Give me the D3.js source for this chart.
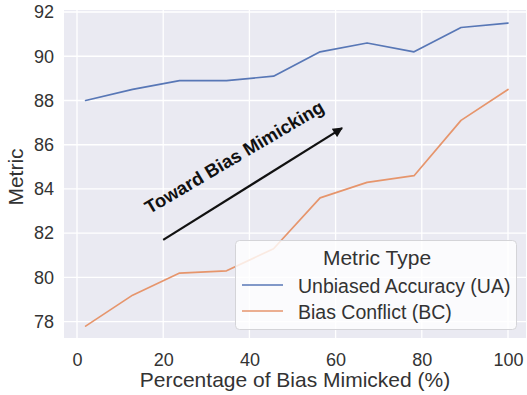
<!DOCTYPE html>
<html>
<head>
<meta charset="utf-8">
<script src="https://cdn.jsdelivr.net/npm/d3@7/dist/d3.min.js"></script>
<style>
  html, body { margin: 0; padding: 0; background: #ffffff; }
  svg { display: block; }
  svg text { font-family: "Liberation Sans", Arial, sans-serif; }
</style>
</head>
<body>
<svg id="chart" width="527" height="395"></svg>
<script>
// Percentage of bias mimicked (x) and the two tracked metrics
const percentages = [2, 12.9, 23.8, 34.7, 45.6, 56.4, 67.3, 78.2, 89.1, 100];
const unbiasedAccuracy = [88.0, 88.5, 88.9, 88.9, 89.1, 90.2, 90.6, 90.2, 91.3, 91.5];
const biasConflict = [77.8, 79.2, 80.2, 80.3, 81.3, 83.6, 84.3, 84.6, 87.1, 88.5];

const seriesNames = ["Unbiased Accuracy (UA)", "Bias Conflict (BC)"];
const seriesColors = ["#5877b6", "#e6956c"];
const xTicks = [0, 20, 40, 60, 80, 100];
const yTicks = [78, 80, 82, 84, 86, 88, 90, 92];

const legendTitle = "Metric Type";
const xLabel = "Percentage of Bias Mimicked (%)";
const yLabel = "Metric";
const arrowText = "Toward Bias Mimicking";
const arrowFrom = [20, 81.7];
const arrowTo = [61.5, 86.75];

const FONT = "'Liberation Sans', Arial, sans-serif";
const svg = d3.select("#chart");
const plot = { left: 64, right: 526, top: 10, bottom: 338 };

const x = d3.scaleLinear()
  .domain([(plot.left - 77) / 4.31, (plot.right - 77) / 4.31])
  .range([plot.left, plot.right]);
const y = d3.scaleLinear()
  .domain([78 - (plot.bottom - 321.7) / 22.12, 92 + (12 - plot.top) / 22.12])
  .range([plot.bottom, plot.top]);

// Panel background
svg.append("rect")
  .attr("x", plot.left).attr("y", plot.top)
  .attr("width", plot.right - plot.left).attr("height", plot.bottom - plot.top)
  .attr("fill", "#eaeaf2");

// White grid lines
const grid = svg.append("g");
grid.selectAll("line.h").data(yTicks).join("line")
  .attr("x1", plot.left).attr("x2", plot.right)
  .attr("y1", d => y(d)).attr("y2", d => y(d))
  .attr("stroke", "#ffffff").attr("stroke-width", 1.3);
grid.selectAll("line.v").data(xTicks).join("line")
  .attr("y1", plot.top).attr("y2", plot.bottom)
  .attr("x1", d => x(d)).attr("x2", d => x(d))
  .attr("stroke", "#ffffff").attr("stroke-width", 1.3);

// Axes (text only, no domain or tick marks)
const xAxis = svg.append("g")
  .attr("transform", `translate(0,${plot.bottom})`)
  .call(d3.axisBottom(x).tickValues(xTicks).tickSize(0).tickPadding(15));
const yAxis = svg.append("g")
  .attr("transform", `translate(${plot.left},0)`)
  .call(d3.axisLeft(y).tickValues(yTicks).tickSize(0).tickPadding(10));
[xAxis, yAxis].forEach(g => {
  g.attr("font-family", null).attr("font-size", null);
  g.select(".domain").remove();
  g.selectAll("text")
    .attr("fill", "#333333")
    .style("font-size", "18px")
    .style("font-family", FONT);
});

svg.append("text")
  .attr("x", (plot.left + plot.right) / 2) .attr("y", 387)
  .attr("text-anchor", "middle")
  .attr("fill", "#333333").style("font-size", "21px").style("font-family", FONT)
  .text(xLabel);
svg.append("text")
  .attr("transform", `translate(23,${(plot.top + plot.bottom) / 2 + 3}) rotate(-90)`)
  .attr("text-anchor", "middle")
  .attr("fill", "#333333").style("font-size", "21px").style("font-family", FONT)
  .text(yLabel);

// Metric lines
const line = d3.line().x((d, i) => x(percentages[i])).y(d => y(d));
[unbiasedAccuracy, biasConflict].forEach((vals, k) => {
  svg.append("path")
    .datum(vals)
    .attr("d", line)
    .attr("fill", "none")
    .attr("stroke", seriesColors[k])
    .attr("stroke-width", 1.7)
    .attr("stroke-linejoin", "round")
    .attr("stroke-linecap", "round");
});

// Annotation arrow and caption
const defs = svg.append("defs");
defs.append("marker")
  .attr("id", "arrowhead")
  .attr("viewBox", "0 0 10 10")
  .attr("refX", 9).attr("refY", 5)
  .attr("markerUnits", "userSpaceOnUse")
  .attr("markerWidth", 12).attr("markerHeight", 10)
  .attr("orient", "auto")
  .append("path")
  .attr("d", "M0,0 L10,5 L0,10 z")
  .attr("fill", "#111111");

const ax0 = x(arrowFrom[0]), ay0 = y(arrowFrom[1]);
const ax1 = x(arrowTo[0]), ay1 = y(arrowTo[1]);
svg.append("line")
  .attr("x1", ax0).attr("y1", ay0).attr("x2", ax1).attr("y2", ay1)
  .attr("stroke", "#111111").attr("stroke-width", 2.2)
  .attr("marker-end", "url(#arrowhead)");

const angle = Math.atan2(ay1 - ay0, ax1 - ax0) * 180 / Math.PI;
svg.append("text")
  .attr("transform", `translate(${x(36.5)},${y(85.45)}) rotate(${angle + 1.5})`)
  .attr("text-anchor", "middle")
  .attr("dy", "0.35em")
  .attr("fill", "#111111")
  .style("font-size", "18.5px").style("font-weight", "bold").style("font-family", FONT)
  .text(arrowText);

// Legend
const legend = svg.append("g");
legend.append("rect")
  .attr("x", 235.5).attr("y", 240.5)
  .attr("width", 281).attr("height", 89)
  .attr("rx", 4)
  .attr("fill", "#ffffff").attr("fill-opacity", 0.8)
  .attr("stroke", "#d4d4d8").attr("stroke-width", 1);
legend.append("text")
  .attr("x", 377).attr("y", 265)
  .attr("text-anchor", "middle")
  .attr("fill", "#333333").style("font-size", "21px").style("font-family", FONT)
  .text(legendTitle);
seriesNames.forEach((name, i) => {
  const ly = 285 + i * 26;
  legend.append("line")
    .attr("x1", 242).attr("x2", 283)
    .attr("y1", ly).attr("y2", ly)
    .attr("stroke", seriesColors[i]).attr("stroke-width", 1.7);
  legend.append("text")
    .attr("x", 298).attr("y", ly + 7.5)
    .attr("fill", "#333333").style("font-size", "19.5px").style("font-family", FONT)
    .text(name);
});
</script>
</body>
</html>
